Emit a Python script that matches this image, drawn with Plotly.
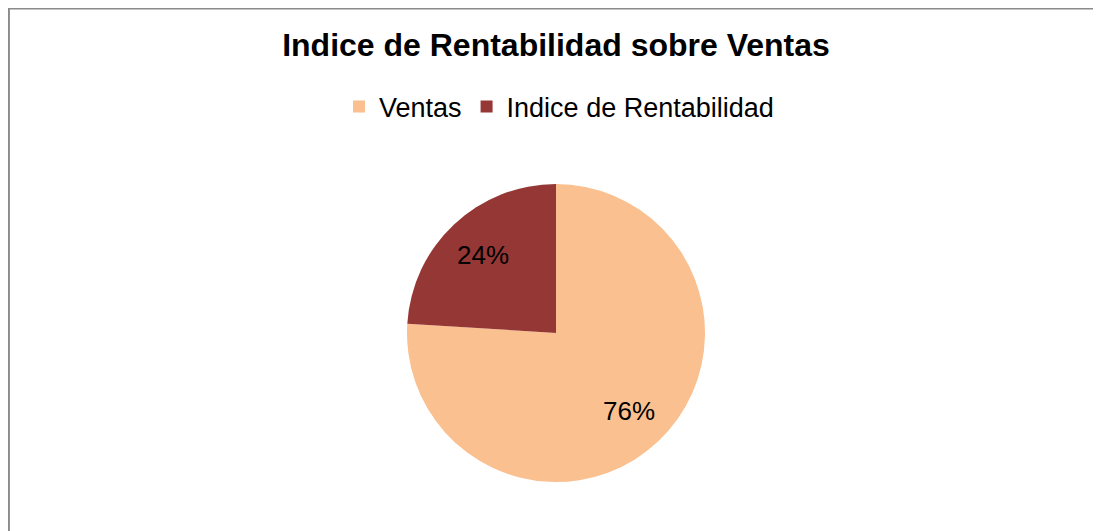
import math
import plotly.graph_objects as go

labels = ["Ventas", "Indice de Rentabilidad"]
values = [76, 24]
colors = ["#FAC090", "#953735"]
title_text = "Indice de Rentabilidad sobre Ventas"

# figure size (page adds an 8px body margin)
W, H = 1093, 523
cx, cy, R = 548, 325, 149
label_r = 0.72 * R

fig = go.Figure(go.Pie(
    labels=labels,
    values=values,
    sort=False,
    direction="clockwise",
    rotation=0,
    marker=dict(colors=colors, line=dict(width=0)),
    textinfo="none",
    domain=dict(x=[(cx - R) / W, (cx + R) / W], y=[1 - (cy + R) / H, 1 - (cy - R) / H]),
    hoverinfo="label+percent",
))

# percentage labels placed at mid-angle of each slice
total = sum(values)
annotations = []
cum = 0.0
for v in values:
    mid = (cum + v / 2) / total * 2 * math.pi
    cum += v
    px = cx + label_r * math.sin(mid)
    py = cy - label_r * math.cos(mid)
    annotations.append(dict(
        x=px / W, y=1 - py / H, xref="paper", yref="paper",
        text=f"{round(100 * v / total)}%", showarrow=False,
        xanchor="center", yanchor="middle",
        font=dict(size=26, color="black"),
    ))

fig.update_layout(
    width=W, height=H,
    margin=dict(l=0, r=0, t=0, b=0),
    paper_bgcolor="white",
    plot_bgcolor="white",
    font=dict(family="Arial, Liberation Sans, sans-serif", color="black"),
    title=dict(text="<b>" + title_text + "</b>", x=cx / W, xanchor="center",
               y=1 - 37 / H, yanchor="middle", yref="container",
               font=dict(size=32, color="black")),
    legend=dict(orientation="h", x=331 / W, xanchor="left", y=1 - 99 / H, yanchor="middle",
                font=dict(size=27), itemclick=False),
    annotations=annotations,
    shapes=[dict(type="rect", xref="paper", yref="paper",
                 x0=0.9 / W, x1=1.05, y0=-0.05, y1=1 - 0.5 / H,
                 line=dict(color="#8a8a8a", width=2), fillcolor="rgba(0,0,0,0)", layer="below")],
)

fig.write_html("out.html")
